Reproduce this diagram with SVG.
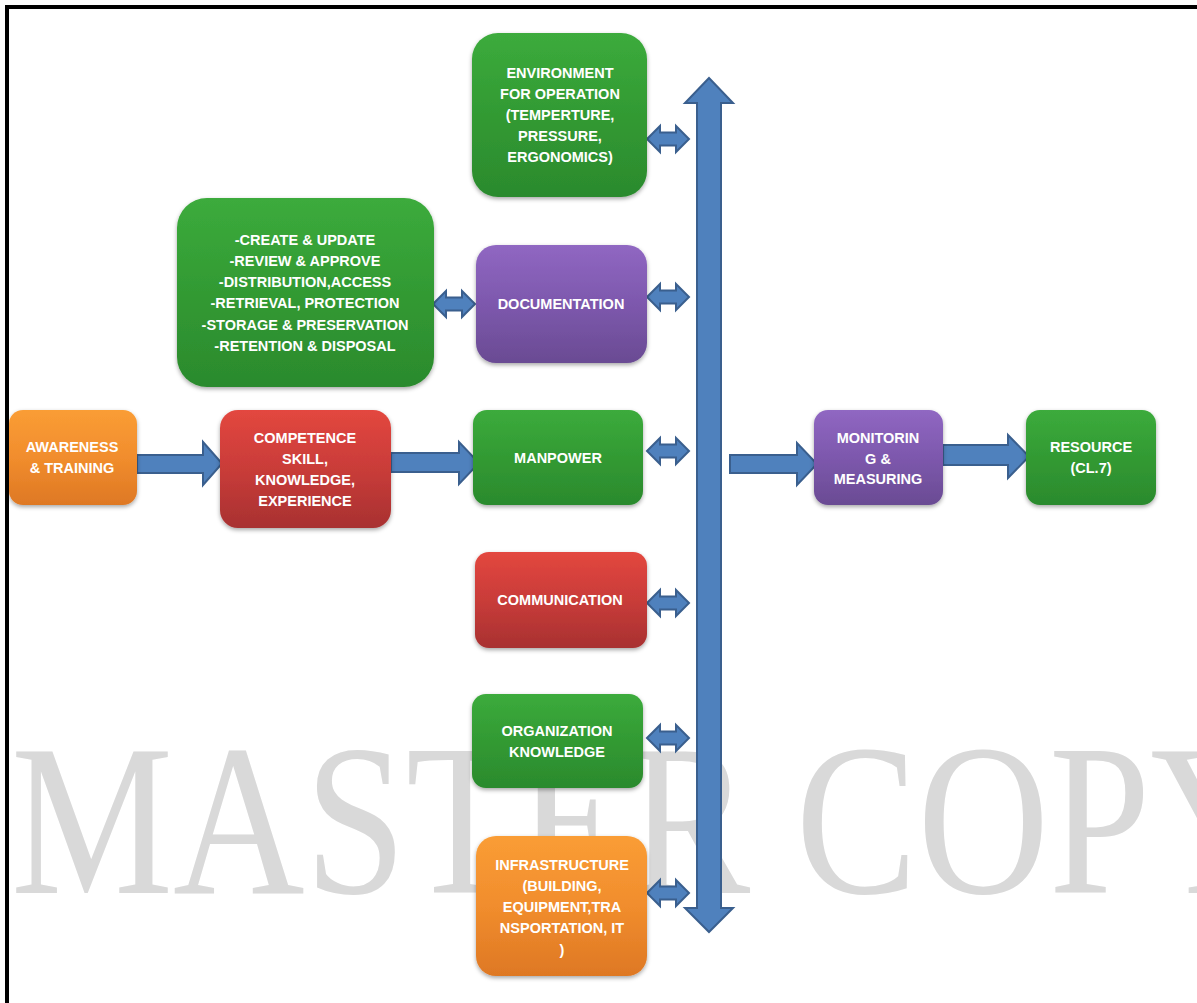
<svg xmlns="http://www.w3.org/2000/svg" width="1197" height="1003" viewBox="0 0 1197 1003">
  <style>
    .lbl { font-family: "Liberation Sans", Arial, sans-serif; font-weight: bold; font-size: 14.5px; fill: #ffffff; text-anchor: middle; }
    .conn { fill: #4f81bd; stroke: #3a5f8e; stroke-width: 2; stroke-linejoin: miter; }
    .box { filter: url(#shadow); }
    .wm { font-family: "Liberation Serif", "Times New Roman", serif; font-size: 216px; fill: #d9d9d9; }
  </style>
  <defs>
    <linearGradient id="gGreen" x1="0" y1="0" x2="0" y2="1">
      <stop offset="0" stop-color="#3cab3c"/>
      <stop offset="0.5" stop-color="#329a33"/>
      <stop offset="1" stop-color="#2b8a2d"/>
    </linearGradient>
    <linearGradient id="gPurple" x1="0" y1="0" x2="0" y2="1">
      <stop offset="0" stop-color="#9067c2"/>
      <stop offset="0.5" stop-color="#7d58ad"/>
      <stop offset="1" stop-color="#6a4b93"/>
    </linearGradient>
    <linearGradient id="gRed" x1="0" y1="0" x2="0" y2="1">
      <stop offset="0" stop-color="#e3473f"/>
      <stop offset="0.5" stop-color="#c93c39"/>
      <stop offset="1" stop-color="#a83131"/>
    </linearGradient>
    <linearGradient id="gOrange" x1="0" y1="0" x2="0" y2="1">
      <stop offset="0" stop-color="#fa9d35"/>
      <stop offset="0.5" stop-color="#f18d2d"/>
      <stop offset="1" stop-color="#de7824"/>
    </linearGradient>
    <filter id="shadow" x="-10%" y="-10%" width="120%" height="130%">
      <feDropShadow dx="0" dy="2" stdDeviation="2" flood-color="#000" flood-opacity="0.35"/>
    </filter>
    <!-- short two-way link between a box and the bus, origin at left tip -->
    <path id="dbl" d="M0,0 L13,-13 L13,-6.5 L29,-6.5 L29,-13 L42,0 L29,13 L29,6.5 L13,6.5 L13,13 Z"/>
  </defs>

  <rect width="1197" height="1003" fill="#ffffff"/>

  <!-- watermark -->
  <text class="wm" x="11" y="893" textLength="1271" lengthAdjust="spacingAndGlyphs">MASTER COPY</text>

  <!-- page frame -->
  <rect x="7" y="7" width="1200" height="1010" fill="none" stroke="#000000" stroke-width="4"/>

  <!-- connectors -->
  <g id="connectors">
    <!-- vertical bus -->
    <path class="conn" d="M709,78 L733,103 L721,103 L721,908 L733,908 L709,932 L685,908 L697,908 L697,103 L685,103 Z"/>
    <use href="#dbl" class="conn" x="647" y="139"/>
    <use href="#dbl" class="conn" x="647" y="297"/>
    <use href="#dbl" class="conn" x="647" y="451"/>
    <use href="#dbl" class="conn" x="647" y="603"/>
    <use href="#dbl" class="conn" x="647" y="738"/>
    <use href="#dbl" class="conn" x="647" y="893"/>
    <use href="#dbl" class="conn" x="433" y="304"/>
    <!-- flow arrows -->
    <path class="conn" d="M137,455 H203 V442 L222,463.5 L203,485 V473 H137 Z"/>
    <path class="conn" d="M391,453 H459 V442 L479,463 L459,484 V472 H391 Z"/>
    <path class="conn" d="M730,455 H797 V443 L817,464 L797,485 V473 H730 Z"/>
    <path class="conn" d="M943,445 H1008 V435 L1029,456.5 L1008,478 V465 H943 Z"/>
  </g>

  <!-- nodes -->
  <g id="environment">
    <rect class="box" x="472" y="33" width="175" height="164" rx="26" fill="url(#gGreen)"/>
    <text class="lbl" x="560" y="78">ENVIRONMENT</text>
    <text class="lbl" x="560" y="99">FOR OPERATION</text>
    <text class="lbl" x="560" y="120">(TEMPERTURE,</text>
    <text class="lbl" x="560" y="141">PRESSURE,</text>
    <text class="lbl" x="560" y="162">ERGONOMICS)</text>
  </g>

  <g id="doc-control">
    <rect class="box" x="177" y="198" width="257" height="189" rx="30" fill="url(#gGreen)"/>
    <text class="lbl" x="305" y="245">-CREATE &amp; UPDATE</text>
    <text class="lbl" x="305" y="266">-REVIEW &amp; APPROVE</text>
    <text class="lbl" x="305" y="287">-DISTRIBUTION,ACCESS</text>
    <text class="lbl" x="305" y="308">-RETRIEVAL, PROTECTION</text>
    <text class="lbl" x="305" y="330">-STORAGE &amp; PRESERVATION</text>
    <text class="lbl" x="305" y="351">-RETENTION &amp; DISPOSAL</text>
  </g>

  <g id="documentation">
    <rect class="box" x="476" y="245" width="171" height="118" rx="20" fill="url(#gPurple)"/>
    <text class="lbl" x="561" y="309">DOCUMENTATION</text>
  </g>

  <g id="awareness">
    <rect class="box" x="9" y="410" width="128" height="95" rx="14" fill="url(#gOrange)"/>
    <text class="lbl" x="72" y="452">AWARENESS</text>
    <text class="lbl" x="72" y="473">&amp; TRAINING</text>
  </g>

  <g id="competence">
    <rect class="box" x="220" y="410" width="171" height="118" rx="18" fill="url(#gRed)"/>
    <text class="lbl" x="305" y="443">COMPETENCE</text>
    <text class="lbl" x="305" y="464">SKILL,</text>
    <text class="lbl" x="305" y="485">KNOWLEDGE,</text>
    <text class="lbl" x="305" y="506">EXPERIENCE</text>
  </g>

  <g id="manpower">
    <rect class="box" x="473" y="410" width="170" height="95" rx="14" fill="url(#gGreen)"/>
    <text class="lbl" x="558" y="463">MANPOWER</text>
  </g>

  <g id="communication">
    <rect class="box" x="475" y="552" width="172" height="96" rx="14" fill="url(#gRed)"/>
    <text class="lbl" x="560" y="605">COMMUNICATION</text>
  </g>

  <g id="org-knowledge">
    <rect class="box" x="472" y="694" width="171" height="94" rx="14" fill="url(#gGreen)"/>
    <text class="lbl" x="557" y="736">ORGANIZATION</text>
    <text class="lbl" x="557" y="757">KNOWLEDGE</text>
  </g>

  <g id="infrastructure">
    <rect class="box" x="476" y="836" width="171" height="140" rx="20" fill="url(#gOrange)"/>
    <text class="lbl" x="562" y="870">INFRASTRUCTURE</text>
    <text class="lbl" x="562" y="891">(BUILDING,</text>
    <text class="lbl" x="562" y="912">EQUIPMENT,TRA</text>
    <text class="lbl" x="562" y="933">NSPORTATION, IT</text>
    <text class="lbl" x="562" y="955">)</text>
  </g>

  <g id="monitoring">
    <rect class="box" x="814" y="410" width="129" height="95" rx="14" fill="url(#gPurple)"/>
    <text class="lbl" x="878" y="443">MONITORIN</text>
    <text class="lbl" x="878" y="464">G &amp;</text>
    <text class="lbl" x="878" y="484">MEASURING</text>
  </g>

  <g id="resource">
    <rect class="box" x="1026" y="410" width="130" height="95" rx="14" fill="url(#gGreen)"/>
    <text class="lbl" x="1091" y="452">RESOURCE</text>
    <text class="lbl" x="1091" y="473">(CL.7)</text>
  </g>
</svg>
